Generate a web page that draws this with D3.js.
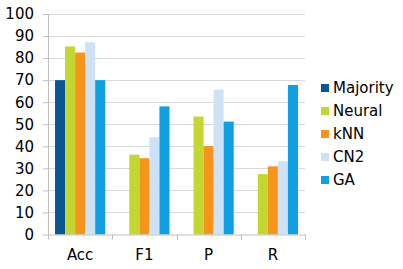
<!DOCTYPE html>
<html>
<head>
<meta charset="utf-8">
<script src="https://cdn.jsdelivr.net/npm/d3@7"></script>
<style>
  body { margin: 0; background: #fff; }
  text { font-family: "DejaVu Sans", Verdana, sans-serif; fill: #000; }
</style>
</head>
<body>
<svg width="403" height="269"></svg>
<script>
const categories = ['Acc', 'F1', 'P', 'R'];
const seriesNames = ['Majority', 'Neural', 'kNN', 'CN2', 'GA'];
const majority = [70, null, null, null];
const neural = [85.3, 36.2, 53.5, 27.4];
const knn = [82.5, 34.6, 40.1, 30.9];
const cn2 = [87.2, 44.1, 65.7, 33.2];
const ga = [70, 58.1, 51.2, 67.8];
const yTicks = [0, 10, 20, 30, 40, 50, 60, 70, 80, 90, 100];
const colors = ['#0a5592', '#c3d631', '#f7941e', '#cde3f5', '#0ea0e0'];

const seriesValues = [majority, neural, knn, cn2, ga];

const svg = d3.select('svg');
const margin = { top: 14, left: 48, right: 98, bottom: 34.5 };
const width = 403 - margin.left - margin.right;
const height = 269 - margin.top - margin.bottom;

const g = svg.append('g')
  .attr('transform', 'translate(' + margin.left + ',' + margin.top + ')');

const x = d3.scaleBand().domain(categories).range([0, width]).padding(0);
const xs = d3.scaleBand().domain(seriesNames).range([0, x.bandwidth()])
  .paddingInner(0).paddingOuter(0.7);
const y = d3.scaleLinear().domain([0, 100]).range([height, 0]);

// gridlines
g.append('g')
  .selectAll('line')
  .data(yTicks.slice(1))
  .join('line')
  .attr('x1', 0).attr('x2', width)
  .attr('y1', d => Math.round(y(d)) + 0.5).attr('y2', d => Math.round(y(d)) + 0.5)
  .attr('stroke', '#d9d9d9');

// bars
const groups = g.append('g')
  .selectAll('g')
  .data(seriesNames)
  .join('g')
  .attr('fill', (d, i) => colors[i]);

groups.selectAll('rect')
  .data((d, i) => categories.map((c, j) => ({ s: d, c: c, v: seriesValues[i][j] }))
    .filter(o => o.v != null))
  .join('rect')
  .attr('x', d => x(d.c) + xs(d.s))
  .attr('width', xs.bandwidth())
  .attr('y', d => y(d.v))
  .attr('height', d => y(0) - y(d.v));

// y axis
const yAxis = g.append('g')
  .call(d3.axisLeft(y).tickValues(yTicks).tickSize(5).tickPadding(9));
yAxis.select('.domain').attr('stroke', '#bfbfbf').attr('d', 'M0.5,0V' + height);
yAxis.selectAll('.tick line').attr('stroke', '#bfbfbf');
yAxis.selectAll('text').style('font-size', '15px');

// x axis
const xAxis = g.append('g')
  .attr('transform', 'translate(0,' + height + ')')
  .call(d3.axisBottom(x).tickSize(0).tickPadding(15));
xAxis.select('.domain').attr('stroke', '#bfbfbf').attr('d', 'M0,0.5H' + width);
xAxis.selectAll('text').style('font-size', '15px');
xAxis.append('g')
  .selectAll('line')
  .data(categories.concat(['end']))
  .join('line')
  .attr('x1', (d, i) => Math.round(i * x.step()) + 0.5)
  .attr('x2', (d, i) => Math.round(i * x.step()) + 0.5)
  .attr('y1', 0).attr('y2', 5)
  .attr('stroke', '#bfbfbf');

// legend
const legend = svg.append('g')
  .attr('transform', 'translate(321,88)');
const items = legend.selectAll('g')
  .data(seriesNames)
  .join('g')
  .attr('transform', (d, i) => 'translate(0,' + i * 23 + ')');
items.append('rect')
  .attr('x', 0).attr('y', -4)
  .attr('width', 8).attr('height', 8)
  .attr('fill', (d, i) => colors[i]);
items.append('text')
  .attr('x', 12).attr('y', 0)
  .attr('dy', '0.35em')
  .style('font-size', '15px')
  .text(d => d);
</script>
</body>
</html>
